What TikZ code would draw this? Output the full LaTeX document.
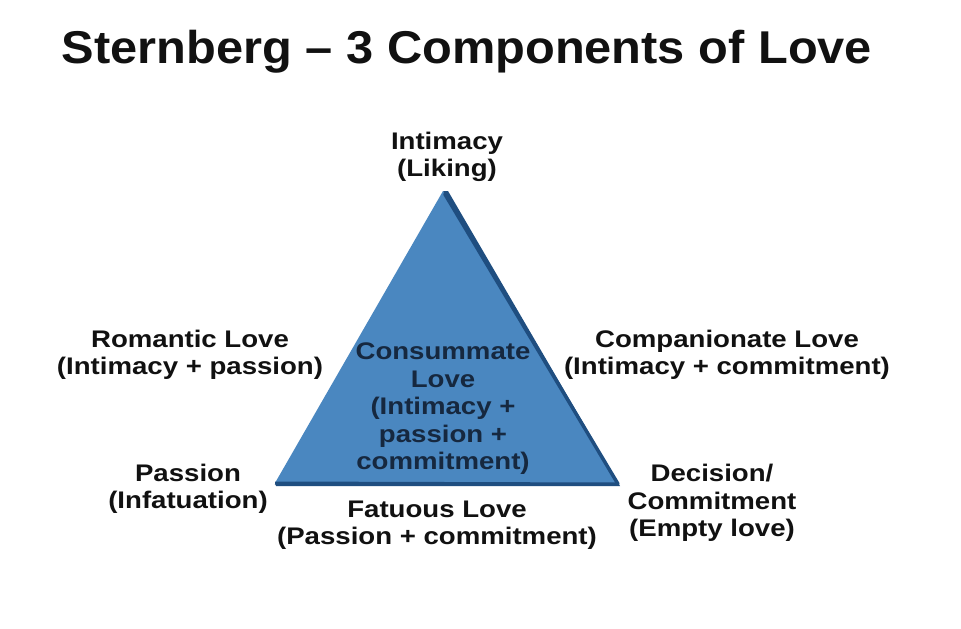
\documentclass[tikz,border=0pt]{standalone}
\usepackage{fontspec}
\setmainfont{Liberation Sans}
\newfontfamily\titlefont[FakeStretch=1.06]{Liberation Sans}
\newfontfamily\lblfont[FakeStretch=1.15]{Liberation Sans}
\usetikzlibrary{calc}
\definecolor{tri}{HTML}{4A87C0}
\definecolor{triedge}{HTML}{1F4E80}
\definecolor{navy}{HTML}{16283F}
\definecolor{ink}{HTML}{111111}
\begin{document}
\begin{tikzpicture}[x=1pt,y=-1pt,
  lbl/.style={align=center,font=\lblfont\bfseries\fontsize{24}{27.5}\selectfont,text=ink,inner sep=0pt}]
\useasboundingbox (0,0) rectangle (961,629);
\fill[white] (0,0) rectangle (961,629);
\node[font=\titlefont\bfseries\fontsize{46}{52}\selectfont,text=ink,inner sep=0pt] (title) at (467,52) {Sternberg – 3 Components of Love};
% triangle with dark edge
\coordinate (A) at (443,191);
\coordinate (B) at (275,483);
\coordinate (C) at (618,484);
\fill[triedge] (A) -- ++(5,0) -- (620,486) -- (276,486) -- (B) -- (C) -- cycle;
\fill[tri] (A) -- (B) -- (C) -- cycle;
\draw[triedge,line width=3.5pt,line cap=round] (C) -- ($(A)!0.01!(C)$);
\draw[triedge,line width=3pt] (B) -- (C);
\node[lbl] (int) at (447,157) {Intimacy\\(Liking)};
\node[lbl] (rom) at (190,355) {Romantic Love\\(Intimacy + passion)};
\node[lbl] (com) at (727,355) {Companionate Love\\(Intimacy + commitment)};
\node[lbl,text=navy] (cons) at (443,409) {Consummate\\Love\\(Intimacy +\\passion +\\commitment)};
\node[lbl] (pas) at (188,489) {Passion\\(Infatuation)};
\node[lbl] (fat) at (437,525) {Fatuous Love\\(Passion + commitment)};
\node[lbl] (dec) at (712,503) {Decision/\\Commitment\\(Empty love)};
\end{tikzpicture}
\end{document}
